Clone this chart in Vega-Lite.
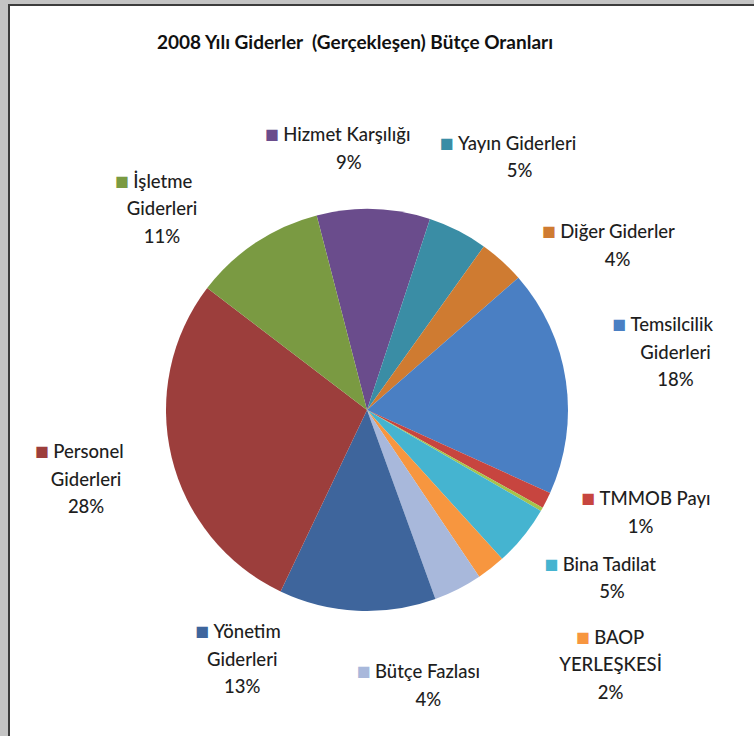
{
  "$schema": "https://vega.github.io/schema/vega-lite/v6.json",
  "width": 754,
  "height": 736,
  "autosize": {"type": "fit", "contains": "padding"},
  "padding": {"left": 9, "top": 5, "right": -3, "bottom": -3},
  "background": "#c4c4c4",
  "view": {"fill": "#ffffff", "stroke": "#3c3c3c", "strokeWidth": 2},
  "config": {"font": "Lato"},
  "title": {
    "text": "2008 Yılı Giderler\u00a0 (Gerçekleşen) Bütçe Oranları",
    "font": "Lato", "fontSize": 19, "fontWeight": "bold", "color": "#111111",
    "anchor": "middle", "offset": 0, "dx": -28, "dy": 48
  },
  "data": {
    "values": [
      {"sira": 1, "kalem": "Hizmet Karşılığı", "satir": ["Hizmet Karşılığı"], "oran": 0.091},
      {"sira": 2, "kalem": "Yayın Giderleri", "satir": ["Yayın Giderleri"], "oran": 0.048},
      {"sira": 3, "kalem": "Diğer Giderler", "satir": ["Diğer Giderler"], "oran": 0.037},
      {"sira": 4, "kalem": "Temsilcilik Giderleri", "satir": ["Temsilcilik", "Giderleri"], "oran": 0.182},
      {"sira": 5, "kalem": "TMMOB Payı", "satir": ["TMMOB Payı"], "oran": 0.013},
      {"sira": 6, "kalem": "Diğer Kalemler", "satir": [""], "oran": 0.003},
      {"sira": 7, "kalem": "Bina Tadilat", "satir": ["Bina Tadilat"], "oran": 0.049},
      {"sira": 8, "kalem": "BAOP YERLEŞKESİ", "satir": ["BAOP", "YERLEŞKESİ"], "oran": 0.023},
      {"sira": 9, "kalem": "Bütçe Fazlası", "satir": ["Bütçe Fazlası"], "oran": 0.039},
      {"sira": 10, "kalem": "Yönetim Giderleri", "satir": ["Yönetim", "Giderleri"], "oran": 0.126},
      {"sira": 11, "kalem": "Personel Giderleri", "satir": ["Personel", "Giderleri"], "oran": 0.283},
      {"sira": 12, "kalem": "İşletme Giderleri", "satir": ["İşletme", "Giderleri"], "oran": 0.106}
    ]
  },
  "encoding": {
    "theta": {"field": "oran", "type": "quantitative", "stack": true, "scale": {"range": [-0.2531, 6.0301]}},
    "order": {"field": "sira", "type": "quantitative"}
  },
  "layer": [
    {
      "mark": {"type": "arc", "outerRadius": 201, "xOffset": -16, "yOffset": 38},
      "encoding": {
        "color": {
          "field": "kalem", "type": "nominal", "legend": null,
          "scale": {
            "domain": ["Hizmet Karşılığı", "Yayın Giderleri", "Diğer Giderler", "Temsilcilik Giderleri", "TMMOB Payı", "Diğer Kalemler", "Bina Tadilat", "BAOP YERLEŞKESİ", "Bütçe Fazlası", "Yönetim Giderleri", "Personel Giderleri", "İşletme Giderleri"],
            "range": ["#6a4c8c", "#3a8da5", "#cf7b31", "#4a7fc3", "#c7453f", "#a6c34b", "#45b4d0", "#f7963f", "#a8b8db", "#3e659c", "#9c3e3c", "#7a9a42"]
          }
        }
      }
    },
    {
      "mark": {
        "type": "text", "xOffset": -16, "yOffset": 38,
        "radius": {"expr": "({'Hizmet Karşılığı': 280, 'Yayın Giderleri': 263, 'Diğer Giderler': 240, 'Temsilcilik Giderleri': 252, 'TMMOB Payı': 238, 'Bina Tadilat': 245, 'BAOP YERLEŞKESİ': 330, 'Bütçe Fazlası': 276, 'Yönetim Giderleri': 303, 'Personel Giderleri': 339, 'İşletme Giderleri': 322})[datum.kalem] || 290"},
        "thetaOffset": {"expr": "({'Hizmet Karşılığı': -0.405, 'Yayın Giderleri': -0.188, 'Diğer Giderler': 0.082, 'Temsilcilik Giderleri': -0.082, 'TMMOB Payı': -0.019, 'Bina Tadilat': 0.079, 'BAOP YERLEŞKESİ': -0.022, 'Bütçe Fazlası': 0.506, 'Yönetim Giderleri': 0.553, 'Personel Giderleri': 0.03, 'İşletme Giderleri': -0.311})[datum.kalem] || 0"},
        "dy": {"expr": "-length(datum.satir) * 13.75"},
        "font": "Lato", "fontSize": 23, "align": "left", "baseline": "middle",
        "text": {"expr": "datum.oran < 0.005 ? '' : '■'"}
      },
      "encoding": {
        "color": {"field": "kalem", "type": "nominal", "legend": null}
      }
    },
    {
      "mark": {
        "type": "text", "xOffset": -16, "yOffset": 38, "dx": 18,
        "radius": {"expr": "({'Hizmet Karşılığı': 280, 'Yayın Giderleri': 263, 'Diğer Giderler': 240, 'Temsilcilik Giderleri': 252, 'TMMOB Payı': 238, 'Bina Tadilat': 245, 'BAOP YERLEŞKESİ': 330, 'Bütçe Fazlası': 276, 'Yönetim Giderleri': 303, 'Personel Giderleri': 339, 'İşletme Giderleri': 322})[datum.kalem] || 290"},
        "thetaOffset": {"expr": "({'Hizmet Karşılığı': -0.405, 'Yayın Giderleri': -0.188, 'Diğer Giderler': 0.082, 'Temsilcilik Giderleri': -0.082, 'TMMOB Payı': -0.019, 'Bina Tadilat': 0.079, 'BAOP YERLEŞKESİ': -0.022, 'Bütçe Fazlası': 0.506, 'Yönetim Giderleri': 0.553, 'Personel Giderleri': 0.03, 'İşletme Giderleri': -0.311})[datum.kalem] || 0"},
        "dy": {"expr": "-length(datum.satir) * 13.75"},
        "font": "Lato", "fontSize": 18.5, "fontWeight": 500, "align": "left", "baseline": "middle", "fill": "#1e1e1e",
        "text": {"expr": "datum.satir[0]"}
      }
    },
    {
      "mark": {
        "type": "text", "xOffset": -16, "yOffset": 38,
        "dx": {"expr": "18 + length(datum.satir[0]) * 4.1"},
        "radius": {"expr": "({'Hizmet Karşılığı': 280, 'Yayın Giderleri': 263, 'Diğer Giderler': 240, 'Temsilcilik Giderleri': 252, 'TMMOB Payı': 238, 'Bina Tadilat': 245, 'BAOP YERLEŞKESİ': 330, 'Bütçe Fazlası': 276, 'Yönetim Giderleri': 303, 'Personel Giderleri': 339, 'İşletme Giderleri': 322})[datum.kalem] || 290"},
        "thetaOffset": {"expr": "({'Hizmet Karşılığı': -0.405, 'Yayın Giderleri': -0.188, 'Diğer Giderler': 0.082, 'Temsilcilik Giderleri': -0.082, 'TMMOB Payı': -0.019, 'Bina Tadilat': 0.079, 'BAOP YERLEŞKESİ': -0.022, 'Bütçe Fazlası': 0.506, 'Yönetim Giderleri': 0.553, 'Personel Giderleri': 0.03, 'İşletme Giderleri': -0.311})[datum.kalem] || 0"},
        "dy": {"expr": "-length(datum.satir) * 13.75 + 27.5"},
        "font": "Lato", "fontSize": 18.5, "fontWeight": 500, "align": "center", "baseline": "middle", "fill": "#1e1e1e",
        "text": {"expr": "length(datum.satir) > 1 ? datum.satir[1] : ''"}
      }
    },
    {
      "mark": {
        "type": "text", "xOffset": -16, "yOffset": 38,
        "dx": {"expr": "18 + length(datum.satir[0]) * 4.1"},
        "radius": {"expr": "({'Hizmet Karşılığı': 280, 'Yayın Giderleri': 263, 'Diğer Giderler': 240, 'Temsilcilik Giderleri': 252, 'TMMOB Payı': 238, 'Bina Tadilat': 245, 'BAOP YERLEŞKESİ': 330, 'Bütçe Fazlası': 276, 'Yönetim Giderleri': 303, 'Personel Giderleri': 339, 'İşletme Giderleri': 322})[datum.kalem] || 290"},
        "thetaOffset": {"expr": "({'Hizmet Karşılığı': -0.405, 'Yayın Giderleri': -0.188, 'Diğer Giderler': 0.082, 'Temsilcilik Giderleri': -0.082, 'TMMOB Payı': -0.019, 'Bina Tadilat': 0.079, 'BAOP YERLEŞKESİ': -0.022, 'Bütçe Fazlası': 0.506, 'Yönetim Giderleri': 0.553, 'Personel Giderleri': 0.03, 'İşletme Giderleri': -0.311})[datum.kalem] || 0"},
        "dy": {"expr": "length(datum.satir) * 13.75"},
        "font": "Lato", "fontSize": 18.5, "fontWeight": 500, "align": "center", "baseline": "middle", "fill": "#1e1e1e",
        "text": {"expr": "datum.oran < 0.005 ? '' : format(datum.oran, '.0%')"}
      }
    }
  ]
}
